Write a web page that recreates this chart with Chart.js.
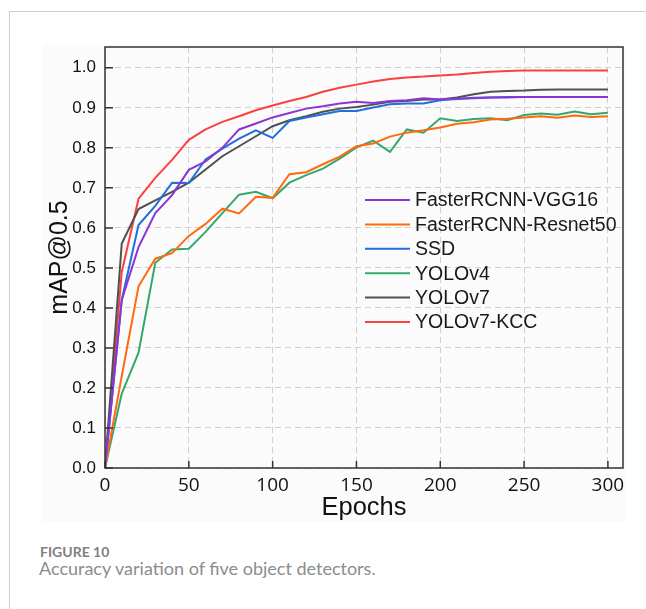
<!DOCTYPE html>
<html>
<head>
<meta charset="utf-8">
<script src="https://cdn.jsdelivr.net/npm/chart.js"></script>
<style>
  body { margin: 0; background: #fff; width: 646px; height: 609px; position: relative; overflow: hidden; }
  #frame { position: absolute; left: 9px; top: 11px; right: -2px; bottom: -2px; border-left: 1px solid #cfcfcf; border-top: 1px solid #cfcfcf; }
  #tint { position: absolute; left: 42px; top: 44px; width: 583px; height: 478px; background: #fbfbfb; }
  #wrap { position: absolute; left: 0; top: 0; width: 646px; height: 530px; }
  .fig { position: absolute; left: 40px; top: 544px; font: bold 14px/1.2 Lato, sans-serif; color: #808080; margin: 0; }
  .cap { position: absolute; left: 39px; top: 558px; font: 18px/1.2 Lato, sans-serif; color: #8c8c8c; margin: 0; }
</style>
</head>
<body>
<div id="frame"></div>
<div id="tint"></div>
<div id="wrap"><canvas id="grafico" width="646" height="530"></canvas></div>
<p class="fig">FIGURE 10</p>
<p class="cap">Accuracy variation of five object detectors.</p>

<script>
// epochs (every 10) and mAP@0.5
const epochs = [0, 10, 20, 30, 40, 50, 60, 70, 80, 90, 100, 110, 120, 130, 140, 150,
  160, 170, 180, 190, 200, 210, 220, 230, 240, 250, 260, 270, 280, 290, 300];

const fasterVgg16 = [0, 0.42, 0.552, 0.637, 0.682, 0.745, 0.766, 0.80, 0.846, 0.861, 0.876,
  0.887, 0.898, 0.904, 0.911, 0.915, 0.912, 0.917, 0.919, 0.924, 0.921, 0.923, 0.925,
  0.926, 0.926, 0.927, 0.927, 0.927, 0.927, 0.927, 0.927];
const fasterResnet50 = [0, 0.23, 0.454, 0.523, 0.537, 0.58, 0.61, 0.648, 0.636, 0.678, 0.675,
  0.734, 0.739, 0.759, 0.778, 0.804, 0.811, 0.828, 0.838, 0.844, 0.851, 0.86, 0.864,
  0.871, 0.873, 0.876, 0.879, 0.875, 0.881, 0.877, 0.879];
const ssd = [0, 0.42, 0.607, 0.655, 0.713, 0.712, 0.771, 0.798, 0.823, 0.844, 0.825,
  0.867, 0.876, 0.884, 0.892, 0.892, 0.901, 0.909, 0.911, 0.911, 0.919, 0.922, 0.924,
  0.926, 0.927, 0.927, 0.927, 0.927, 0.927, 0.927, 0.927];
const yolov4 = [0, 0.186, 0.288, 0.513, 0.546, 0.548, 0.59, 0.637, 0.683, 0.69, 0.674,
  0.713, 0.732, 0.748, 0.773, 0.801, 0.818, 0.79, 0.846, 0.838, 0.874, 0.867, 0.872,
  0.874, 0.869, 0.882, 0.886, 0.883, 0.891, 0.884, 0.888];
const yolov7 = [0, 0.561, 0.647, 0.669, 0.69, 0.713, 0.746, 0.779, 0.804, 0.829, 0.854,
  0.869, 0.879, 0.89, 0.898, 0.902, 0.908, 0.915, 0.917, 0.921, 0.921, 0.926, 0.934,
  0.94, 0.942, 0.943, 0.945, 0.946, 0.946, 0.946, 0.946];
const yolov7Kcc = [0, 0.49, 0.673, 0.725, 0.77, 0.82, 0.846, 0.865, 0.879, 0.894, 0.906,
  0.917, 0.927, 0.94, 0.95, 0.958, 0.966, 0.972, 0.976, 0.978, 0.981, 0.983, 0.987,
  0.99, 0.992, 0.993, 0.993, 0.993, 0.993, 0.993, 0.993];

const nomes = ["FasterRCNN-VGG16", "FasterRCNN-Resnet50", "SSD", "YOLOv4", "YOLOv7", "YOLOv7-KCC"];
const series = [fasterVgg16, fasterResnet50, ssd, yolov4, yolov7, yolov7Kcc];
const cores = ["#8b35d6", "#ff6a10", "#1f6fdc", "#34a86a", "#505050", "#fb4040"];
const xTicks = [0, 50, 100, 150, 200, 250, 300];
const yTicks = [0, 0.1, 0.2, 0.3, 0.4, 0.5, 0.6, 0.7, 0.8, 0.9, 1.0];

// monta os datasets
var datasets = series.map(function (valores, i) {
  return {
    label: nomes[i],
    data: epochs.map(function (e, k) { return { x: e, y: valores[k] }; }),
    borderColor: cores[i],
    backgroundColor: cores[i],
    borderWidth: 2,
    pointRadius: 0,
    tension: 0,
    fill: false
  };
});

// moldura, ticks internos e legenda dentro do gráfico
var moldura = {
  id: "moldura",
  afterDatasetsDraw: function (chart) {
    var ctx = chart.ctx;
    var a = chart.chartArea;
    var sx = chart.scales.x, sy = chart.scales.y;
    ctx.save();
    ctx.strokeStyle = "#333";
    ctx.lineWidth = 1.5;
    ctx.beginPath();
    xTicks.forEach(function (v) {
      var px = sx.getPixelForValue(v);
      ctx.moveTo(px, a.bottom);
      ctx.lineTo(px, a.bottom - 7);
    });
    yTicks.forEach(function (v) {
      var py = sy.getPixelForValue(v);
      ctx.moveTo(a.left, py);
      ctx.lineTo(a.left + 8, py);
    });
    ctx.stroke();
    ctx.strokeRect(a.left, a.top, a.right - a.left, a.bottom - a.top);

    // legenda
    ctx.font = "19.5px 'Liberation Sans', Arial, sans-serif";
    ctx.textBaseline = "middle";
    ctx.fillStyle = "#1a1a1a";
    chart.data.datasets.forEach(function (ds, i) {
      var y = a.top + 153 + i * 24.4;
      ctx.strokeStyle = ds.borderColor;
      ctx.lineWidth = 2;
      ctx.beginPath();
      ctx.moveTo(a.left + 260, y);
      ctx.lineTo(a.left + 305, y);
      ctx.stroke();
      ctx.fillText(ds.label, a.left + 310, y + 1);
    });
    ctx.restore();
  }
};

var ctx = document.getElementById("grafico").getContext("2d");
const myChart = new Chart(ctx, {
  type: "line",
  data: { datasets: datasets },
  plugins: [moldura],
  options: {
    responsive: false,
    animation: false,
    devicePixelRatio: 1,
    layout: { padding: { left: 0, right: 23, top: 47, bottom: 0 } },
    plugins: { legend: { display: false }, tooltip: { enabled: false } },
    scales: {
      x: {
        type: "linear",
        min: 0,
        max: 309,
        afterFit: function (s) { s.height = 62; },
        afterBuildTicks: function (s) { s.ticks = xTicks.map(function (v) { return { value: v }; }); },
        ticks: { font: { family: "'Open Sans'", size: 19 }, color: "#111", padding: 6, maxRotation: 0 },
        grid: { color: "#d0d0d0", lineWidth: 1, drawTicks: false },
        border: { display: false, dash: [6, 4] },
        title: {
          display: true, text: "Epochs", color: "#111",
          font: { family: "'Liberation Sans'", size: 25.5 },
          padding: { top: 0, bottom: 7 }
        }
      },
      y: {
        min: 0,
        max: 1.052,
        afterFit: function (s) { s.width = 105; },
        afterBuildTicks: function (s) { s.ticks = yTicks.map(function (v) { return { value: v }; }); },
        ticks: {
          font: { family: "'Liberation Sans'", size: 17 }, color: "#111", padding: 9,
          callback: function (v) { return v.toFixed(1); }
        },
        grid: { color: "#d0d0d0", lineWidth: 1, drawTicks: false },
        border: { display: false, dash: [6, 4] },
        title: {
          display: true, text: "mAP@0.5", color: "#111",
          font: { family: "'Liberation Sans'", size: 25 },
          padding: { top: 45, bottom: 0 }
        }
      }
    }
  }
});
</script>
</body>
</html>
